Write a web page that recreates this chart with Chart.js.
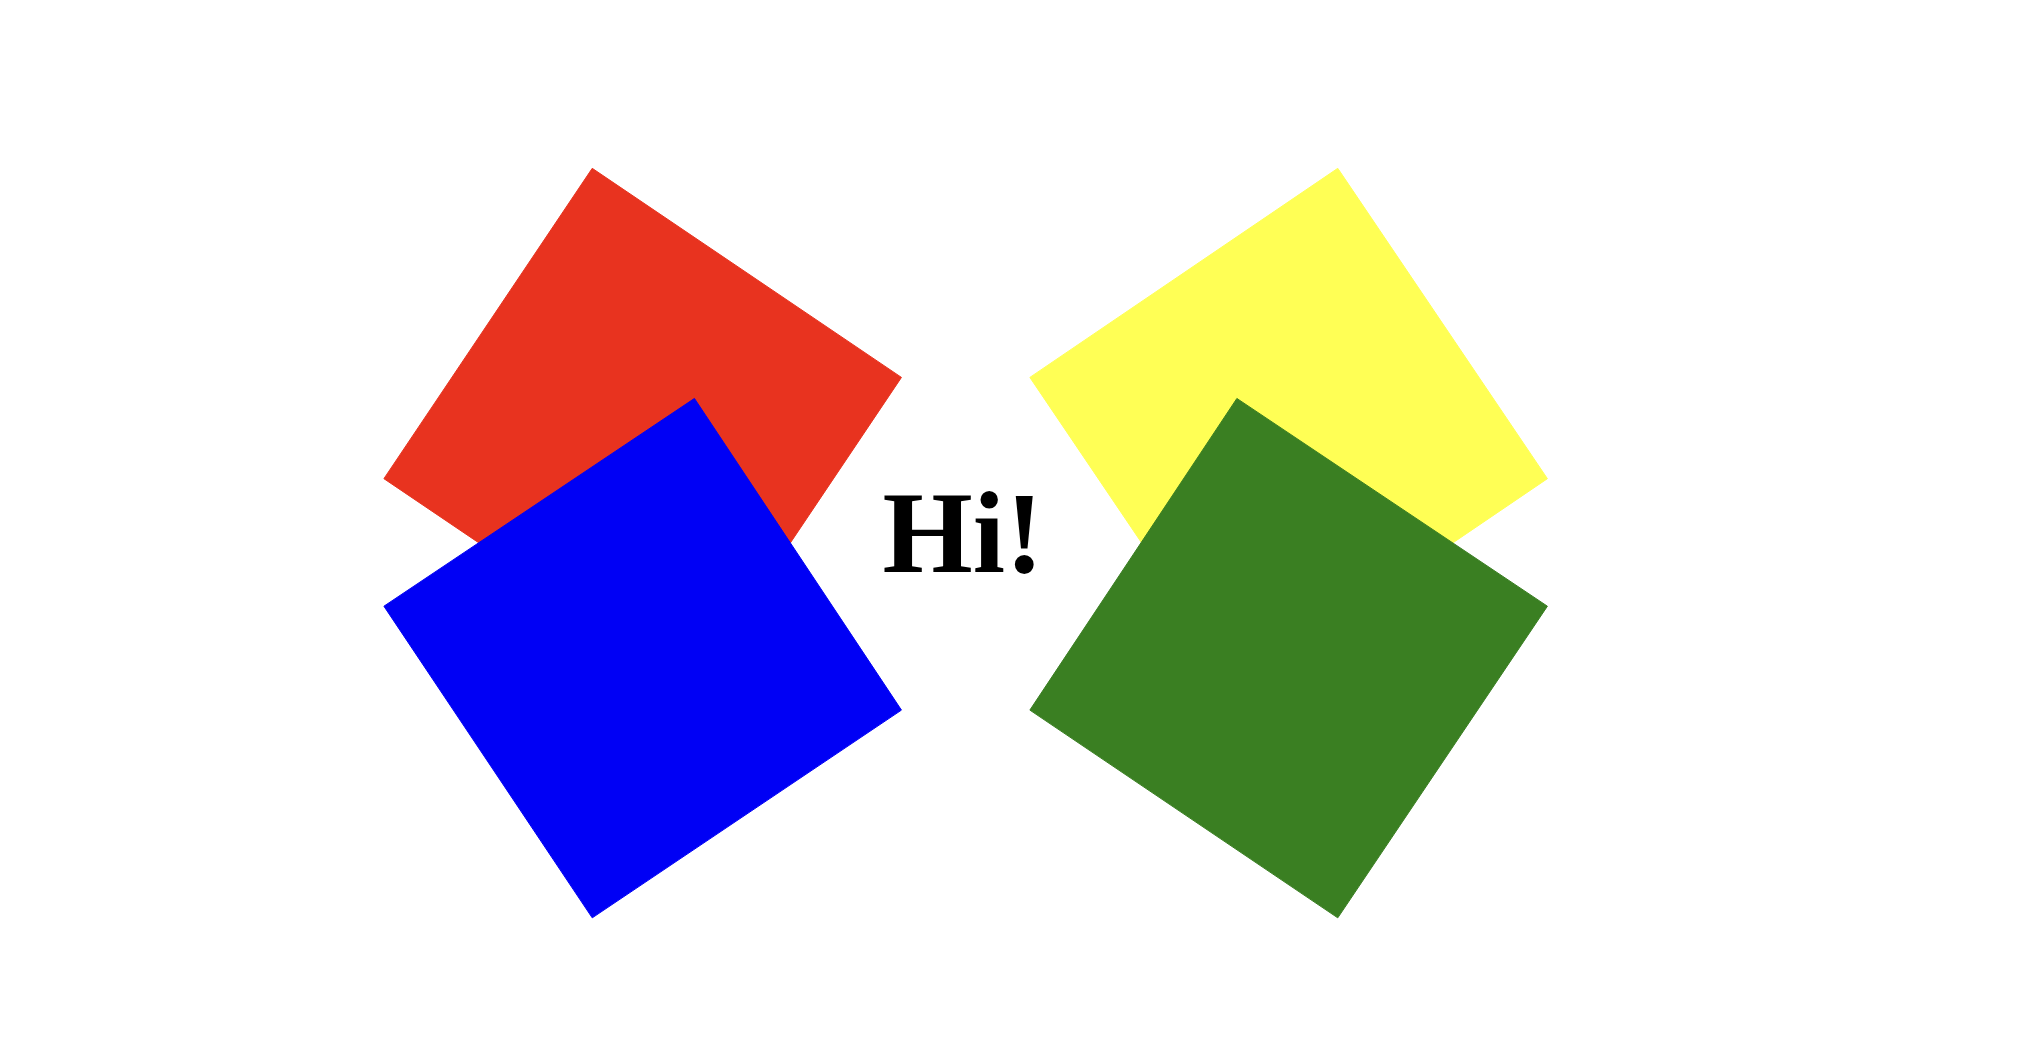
<!DOCTYPE html>
<html><head><meta charset="utf-8">
<script src="https://cdn.jsdelivr.net/npm/chart.js@4"></script>
<style>html,body{margin:0;padding:0;background:#fff;overflow:hidden}#w{width:2044px;height:1052px;position:relative}</style>
</head><body><div id="w"><canvas id="c"></canvas></div>
<script>
const labels = ["Blue", "Green", "Red", "Yellow"];
const blueX = [530, 688, 452, 293, 530];
const blueY = [303, 540, 698, 461, 303];
const greenX = [944, 1181, 1021, 786, 944];
const greenY = [303, 461, 698, 540, 303];
const redX = [452, 688, 529, 293, 452];
const redY = [128, 287, 523, 364, 128];
const yellowX = [1021, 1181, 946, 786, 1021];
const yellowY = [128, 364, 523, 287, 128];
const colors = ["#0000f5", "#3a7f22", "#e8331f", "#ffff55"];
const xs = [blueX, greenX, redX, yellowX], ys = [blueY, greenY, redY, yellowY];
const datasets = labels.map((l, i) => ({
  label: l,
  data: xs[i].map((x, j) => ({x, y: ys[i][j]})),
  showLine: true, fill: 'shape', backgroundColor: colors[i], borderColor: colors[i],
  borderWidth: 1, pointRadius: 0, tension: 0
}));
const textPlugin = {id: 'hi', afterDatasetsDraw(ch) {
  const c = ch.ctx, x = ch.scales.x.getPixelForValue(735), y = ch.scales.y.getPixelForValue(412);
  c.save(); c.fillStyle = '#000'; c.font = 'bold 116px "Liberation Serif", serif';
  c.textAlign = 'center'; c.textBaseline = 'middle'; c.fillText('Hi!', x, y); c.restore();
}};
new Chart(document.getElementById('c'), {
  type: 'scatter', data: {datasets}, plugins: [textPlugin],
  options: {responsive: true, maintainAspectRatio: false, animation: false,
    layout: {padding: 0},
    plugins: {legend: {display: false}, tooltip: {enabled: false}},
    scales: {x: {type: 'linear', min: 0, max: 1560, display: false},
             y: {type: 'linear', min: 0, max: 800, reverse: true, display: false}}}
});
</script></body></html>
